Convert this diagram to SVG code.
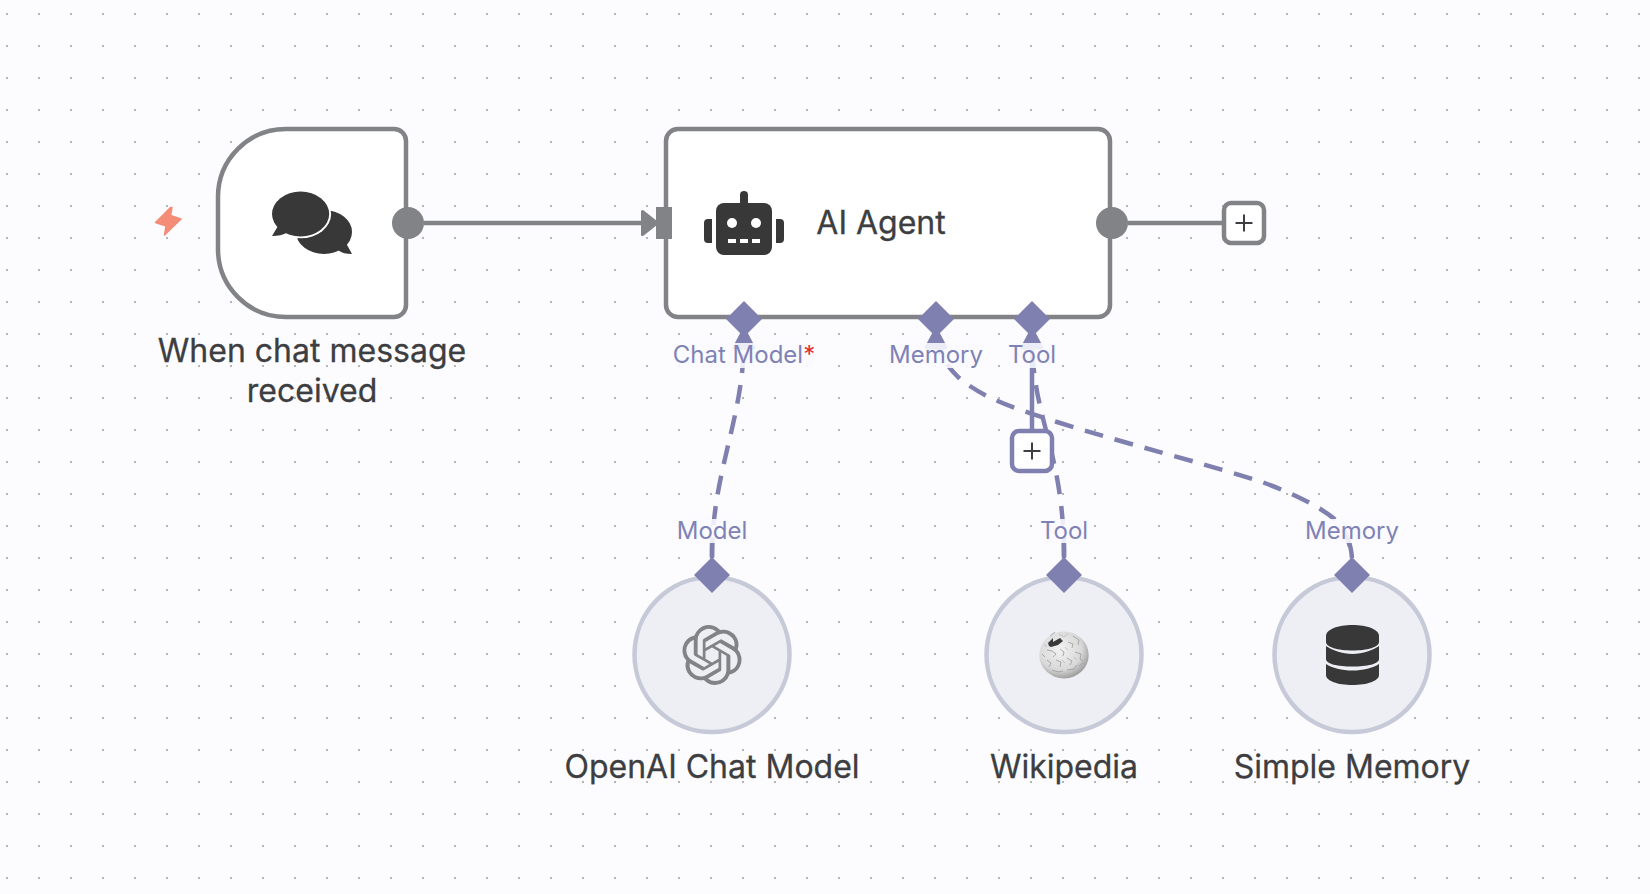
<svg xmlns="http://www.w3.org/2000/svg" width="1650" height="894" viewBox="0 0 1650 894">
<style>
.title{font-family:Inter,"Liberation Sans",sans-serif;font-size:32px;fill:#3d3e41;stroke:#3d3e41;stroke-width:.3;text-anchor:middle}
.port{font-family:Inter,"Liberation Sans",sans-serif;font-size:24px;fill:#7f82b5;text-anchor:middle}
.wire{fill:none;stroke:#8080b0;stroke-width:4.500}
.dash{stroke-dasharray:19 12}
.lblbg{fill:#fbfbff;opacity:.88}
.dia{fill:#8080b0}
.tip{fill:#8080b0;stroke:#8080b0;stroke-width:3;stroke-linejoin:round}
.main{fill:#fff;stroke:#828387;stroke-width:4.500}
.sub{fill:#eeeff4;stroke:#c6cad8;stroke-width:4.500}
.ink{fill:#383838}
.plus{stroke:#3d3e41;stroke-width:2;fill:none}
</style>
<defs>
<pattern id="grid" patternUnits="userSpaceOnUse" width="32" height="32"><rect x="6" y="13" width="2" height="2" fill="#b5b5b8"/></pattern>
<radialGradient id="globe" cx="0.42" cy="0.38" r="0.68"><stop offset="0" stop-color="#f2f2f2"/><stop offset="0.65" stop-color="#d8d8d8"/><stop offset="1" stop-color="#8e8e8e"/></radialGradient>
</defs>
<rect width="1650" height="894" fill="#fcfcff"/>
<rect width="1650" height="894" fill="url(#grid)"/>

<g id="connectors">
<path d="M424 223H644" fill="none" stroke="#828387" stroke-width="4.500"/>
<path d="M642.500 211.500L657 223L642.500 234.500Z" fill="#828387" stroke="#828387" stroke-width="3" stroke-linejoin="round"/>
<path d="M1128 223H1224" fill="none" stroke="#828387" stroke-width="4.500"/>
<path class="wire dash" d="M744 337C744 420 712 470 712 558" stroke-dashoffset="14"/>
<path class="wire dash" d="M936 337C938 352 944 363 958 377C985 400 1020 410 1057 422C1130 445 1200 462 1262 482C1300 496 1325 510 1338 522C1347 532 1350 545 1352 558" stroke-dashoffset="1"/>
<path class="wire" d="M1348.500 541C1350.500 546 1351.500 552 1352 558"/>
<path class="wire" d="M712 543V558"/>
<path class="wire dash" d="M1032 337C1032 420 1064 450 1064 558" stroke-dashoffset="14"/>
<path class="wire" d="M1064 543V558"/>
<path class="wire" d="M1032 337V430"/>
<path class="tip" d="M744 329L754 348H734Z"/>
<path class="tip" d="M936 329L946 348H926Z"/>
<path class="tip" d="M1032 329L1042 348H1022Z"/>
<rect class="lblbg" x="673" y="343" width="142" height="25" rx="6"/>
<rect class="lblbg" x="888" y="343" width="96" height="25" rx="6"/>
<rect class="lblbg" x="1008" y="343" width="48" height="25" rx="6"/>
<rect class="lblbg" x="676" y="519" width="72" height="24" rx="6"/>
<rect class="lblbg" x="1040" y="519" width="48" height="24" rx="6"/>
<rect class="lblbg" x="1305" y="519" width="94" height="24" rx="6"/>
</g>

<g id="trigger">
<path class="main" d="M286 129H394A12 12 0 0 1 406 141V305A12 12 0 0 1 394 317H286A68 68 0 0 1 218 249V197A68 68 0 0 1 286 129Z"/>
<path d="M170.500 207.500L155.500 222.500L166 226L164.500 235L181 219L170.500 215.500L172 207.500Z" fill="#f48c77" stroke="#f48c77" stroke-width="1.500" stroke-linejoin="round"/>
<ellipse class="ink" cx="324" cy="232" rx="28" ry="22"/>
<path class="ink" d="M338 250L346 243L352 254C346 254 342 253 338 250Z"/>
<ellipse cx="300.600" cy="214" rx="30.500" ry="24.300" fill="#fff"/>
<ellipse class="ink" cx="300.600" cy="214" rx="28.600" ry="22.400"/>
<path class="ink" d="M278 226L272 236C278 236 283 235 288 232Z"/>
<circle cx="408" cy="223" r="16" fill="#828387"/>
<text class="title" x="312" y="362">When chat message</text>
<text class="title" x="312" y="402">received</text>
</g>

<g id="agent">
<rect class="main" x="666" y="129" width="444" height="188" rx="12"/>
<rect x="656" y="207" width="16" height="32" fill="#828387"/>
<rect class="ink" x="716" y="203" width="56" height="52" rx="8"/>
<rect class="ink" x="740" y="191" width="8" height="16" rx="4"/>
<path class="ink" d="M712 219V243H708A4 4 0 0 1 704 239V223A4 4 0 0 1 708 219ZM776 219H780A4 4 0 0 1 784 223V239A4 4 0 0 1 780 243H776Z"/>
<circle cx="732" cy="223" r="5" fill="#fff"/><circle cx="756" cy="223" r="5" fill="#fff"/>
<rect x="728" y="239" width="8" height="4" fill="#fff"/><rect x="740" y="239" width="8" height="4" fill="#fff"/><rect x="752" y="239" width="8" height="4" fill="#fff"/>
<text class="title" x="881" y="234">AI Agent</text>
<circle cx="1112" cy="223" r="16" fill="#828387"/>
<path class="dia" d="M744 301L762 319L744 337L726 319Z"/>
<path class="dia" d="M936 301L954 319L936 337L918 319Z"/>
<path class="dia" d="M1032 301L1050 319L1032 337L1014 319Z"/>
<text class="port" x="744" y="363">Chat Model<tspan fill="#e0302f">*</tspan></text>
<text class="port" x="936" y="363">Memory</text>
<text class="port" x="1032" y="363">Tool</text>
</g>

<g id="agent-plus">
<rect x="1224" y="203" width="40" height="40" rx="7" fill="#fff" stroke="#828387" stroke-width="4.500"/>
<path class="plus" d="M1235.500 223H1252.500M1244 214.500V231.500"/>
</g>

<g id="tool-plus">
<rect x="1012" y="431" width="40" height="40" rx="7" fill="#fff" stroke="#8080b0" stroke-width="4.500"/>
<path class="plus" d="M1023.500 451H1040.500M1032 442.500V459.500"/>
</g>

<g id="openai">
<circle class="sub" cx="712" cy="654.500" r="77.500"/>
<path transform="translate(682 625) scale(2.5)" fill="#838387" d="M22.2819 9.8211a5.9847 5.9847 0 0 0-.5157-4.9108 6.0462 6.0462 0 0 0-6.5098-2.9A6.0651 6.0651 0 0 0 4.9807 4.1818a5.9847 5.9847 0 0 0-3.9977 2.9 6.0462 6.0462 0 0 0 .7427 7.0966 5.98 5.98 0 0 0 .511 4.9107 6.051 6.051 0 0 0 6.5146 2.9001A5.9847 5.9847 0 0 0 13.2599 24a6.0557 6.0557 0 0 0 5.7718-4.2058 5.9894 5.9894 0 0 0 3.9977-2.9001 6.0557 6.0557 0 0 0-.7475-7.0729zm-9.022 12.6081a4.4755 4.4755 0 0 1-2.8764-1.0408l.1419-.0804 4.7783-2.7582a.7948.7948 0 0 0 .3927-.6813v-6.7369l2.02 1.1686a.071.071 0 0 1 .038.052v5.5826a4.504 4.504 0 0 1-4.4945 4.4944zm-9.6607-4.1254a4.4708 4.4708 0 0 1-.5346-3.0137l.142.0852 4.783 2.7582a.7712.7712 0 0 0 .7806 0l5.8428-3.3685v2.3324a.0804.0804 0 0 1-.0332.0615L9.74 19.9502a4.4992 4.4992 0 0 1-6.1408-1.6464zM2.3408 7.8956a4.485 4.485 0 0 1 2.3655-1.9728V11.6a.7664.7664 0 0 0 .3879.6765l5.8144 3.3543-2.0201 1.1685a.0757.0757 0 0 1-.071 0l-4.8303-2.7865A4.504 4.504 0 0 1 2.3408 7.872zm16.5963 3.8558L13.1038 8.364 15.1192 7.2a.0757.0757 0 0 1 .071 0l4.8303 2.7913a4.4944 4.4944 0 0 1-.6765 8.1042v-5.6772a.79.79 0 0 0-.407-.667zm2.0107-3.0231l-.142-.0852-4.7735-2.7818a.7759.7759 0 0 0-.7854 0L9.409 9.2297V6.8974a.0662.0662 0 0 1 .0284-.0615l4.8303-2.7866a4.4992 4.4992 0 0 1 6.6802 4.66zM8.3065 12.863l-2.02-1.1638a.0804.0804 0 0 1-.038-.0567V6.0742a4.4992 4.4992 0 0 1 7.3757-3.4537l-.142.0805L8.704 5.459a.7948.7948 0 0 0-.3927.6813zm1.0976-2.3654l2.602-1.4998 2.6069 1.4998v2.9994l-2.5974 1.4997-2.6067-1.4997Z"/>
<path class="dia" d="M712 557L730 575L712 593L694 575Z"/>
<text class="port" x="712" y="539">Model</text>
<text class="title" x="712" y="778">OpenAI Chat Model</text>
</g>

<g id="wikipedia">
<circle class="sub" cx="1064" cy="654.500" r="77.500"/>
<ellipse cx="1064" cy="655" rx="24.700" ry="23.500" fill="url(#globe)"/>
<path d="M1048 643L1053 638L1053 642L1060 638L1063 641L1058 645L1051 647L1049 646Z" fill="#3a3a3a"/>
<path d="M1050 636L1055 632M1047 650L1052 651L1056 654L1053 657M1060 649L1064 652L1063 656M1068 642L1073 644L1072 648M1073 636L1079 640L1078 645M1075 652L1081 654L1080 659L1083 661M1067 658L1072 661L1070 665M1056 660L1061 662L1060 667M1047 660L1051 663L1049 667M1052 670L1058 672L1063 671M1067 670L1074 669L1077 665M1042 654L1045 657M1079 666L1083 663" fill="none" stroke="#9a9a9a" stroke-width=".8"/>
<path d="M1059 634L1064 637L1068 634M1044 644L1047 647M1065 647L1068 650M1074 657L1077 660M1062 660L1065 663" fill="none" stroke="#b8b8b8" stroke-width=".8"/>
<path class="dia" d="M1064 557L1082 575L1064 593L1046 575Z"/>
<text class="port" x="1064" y="539">Tool</text>
<text class="title" x="1064" y="778">Wikipedia</text>
</g>

<g id="memory">
<circle class="sub" cx="1352" cy="654.500" r="77.500"/>
<path class="ink" d="M1326 636C1326 629.500 1338 625 1352.500 625S1379 629.500 1379 636V642C1379 647 1367 650.500 1352.500 650.500S1326 647 1326 642Z"/>
<path class="ink" d="M1326 646C1332 650 1342 654 1352.500 654S1373 650 1379 646V659C1379 664 1367 666.500 1352.500 666.500S1326 664 1326 659Z"/>
<path class="ink" d="M1326 664C1332 668 1342 670.500 1352.500 670.500S1373 668 1379 664V675C1379 681 1367 685 1352.500 685S1326 681 1326 675Z"/>
<path class="dia" d="M1352 557L1370 575L1352 593L1334 575Z"/>
<text class="port" x="1352" y="539">Memory</text>
<text class="title" x="1352" y="778">Simple Memory</text>
</g>
</svg>
